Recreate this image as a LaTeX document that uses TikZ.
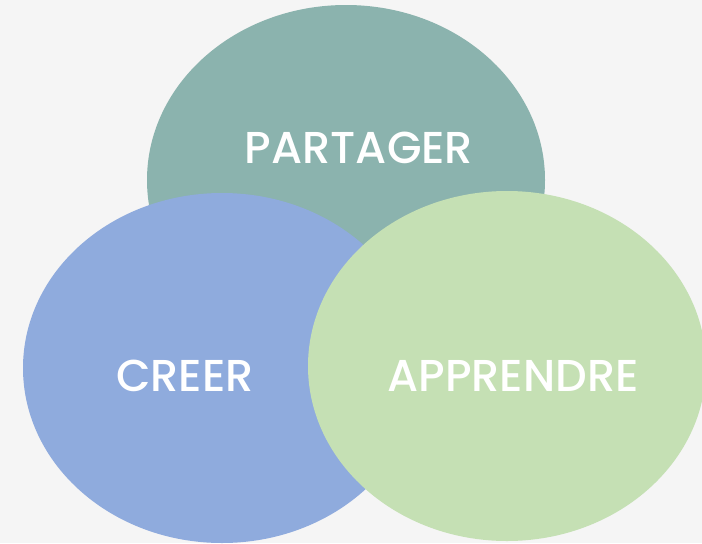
\documentclass[tikz,border=0pt]{standalone}
\usepackage{fontspec}
\setmainfont{Poppins}[UprightFont=* Medium]
\usetikzlibrary{shapes.geometric}
\definecolor{bgcol}{HTML}{F5F5F5}
\definecolor{tealcol}{HTML}{8BB3AE}
\definecolor{bluecol}{HTML}{8FABDD}
\definecolor{greencol}{HTML}{C5E0B4}
\tikzset{
    venn/.style={ellipse,inner sep=0pt,minimum width=298.5pt,minimum height=262.5pt},
    word/.style={text=white,font=\fontsize{33.5}{36}\selectfont,inner sep=0pt}
}

\begin{document}
\begin{tikzpicture}[x=0.75pt,y=-0.75pt]
    \fill[bgcol] (0,0) rectangle (702,543);
    \useasboundingbox (0,0) rectangle (702,543);
    \begin{scope}
        \clip (0,0) rectangle (702,543);
        \node[venn,fill=tealcol] (share) at (346,180) {};
        \node[venn,fill=bluecol] (create) at (222,368) {};
        \node[venn,fill=greencol] (learn) at (507,366) {};
    \end{scope}
    \node[word] (sharetxt) at (359,148) {PARTAGER};
    \node[word] (createtxt) at (185,376) {CREER};
    \node[word] (learntxt) at (513,376) {APPRENDRE};
\end{tikzpicture}
\end{document}
